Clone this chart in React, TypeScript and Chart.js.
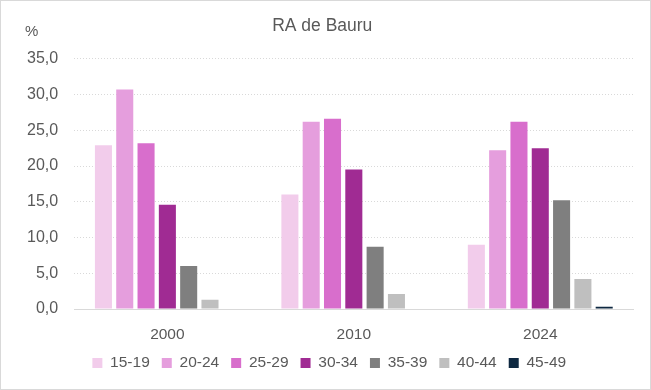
import React, { useEffect, useRef } from "react";
import { Chart, registerables } from "chart.js";

Chart.register(...registerables);

const years = ["2000", "2010", "2024"];
const ageGroups = ["15-19", "20-24", "25-29", "30-34", "35-39", "40-44", "45-49"];
const v1519 = [22.9, 16.0, 9.0];
const v2024 = [30.7, 26.2, 22.2];
const v2529 = [23.2, 26.6, 26.2];
const v3034 = [14.6, 19.5, 22.5];
const v3539 = [6.0, 8.7, 15.2];
const v4044 = [1.3, 2.1, 4.2];
const v4549 = [0.0, 0.0, 0.3];
const colors = ["#F2CCEB", "#E59EDD", "#D86ECC", "#A02B93", "#7F7F7F", "#BFBFBF", "#0E2841"];

const FONT = "'Liberation Sans', Arial, sans-serif";
const TXT = "#595959";

export default function App() {
  const ref = useRef<HTMLCanvasElement>(null);
  useEffect(() => {
    document.body.style.margin = "0";
    const series = [v1519, v2024, v2529, v3034, v3539, v4044, v4549];
    const pctPlugin = {
      id: "pctLabel",
      afterLayout(chart: any) {
        if (chart.legend) {
          chart.legend.left += 14;
        }
      },
      afterDraw(chart: any) {
        const ctx = chart.ctx;
        ctx.save();
        ctx.fillStyle = TXT;
        ctx.font = `15px ${FONT}`;
        ctx.textBaseline = "middle";
        ctx.fillText("%", 24, 31);
        ctx.restore();
      },
    };
    const chart = new Chart(ref.current!, {
      type: "bar",
      data: {
        labels: years,
        datasets: ageGroups.map((g, i) => ({
          label: g,
          data: series[i],
          backgroundColor: colors[i],
          borderWidth: 0,
          categoryPercentage: 0.8,
          barPercentage: 0.8,
        })),
      },
      options: {
        animation: false,
        responsive: false,
        layout: { padding: { left: 10, right: 16.5, top: 0, bottom: 8.25 } },
        plugins: {
          title: {
            display: true,
            text: "RA de Bauru",
            color: TXT,
            font: { family: FONT, size: 17.5, weight: "normal" },
            padding: { top: 14.5, bottom: 22.3 },
          },
          legend: {
            position: "bottom",
            labels: {
              color: TXT,
              font: { family: FONT, size: 15.5 },
              boxWidth: 10,
              boxHeight: 10,
              padding: 12,
            },
          },
          tooltip: { enabled: false },
        },
        scales: {
          x: {
            grid: { display: false, drawTicks: false },
            border: { color: "#D9D9D9", width: 1 },
            ticks: { color: TXT, font: { family: FONT, size: 15.5 }, padding: 16.7 },
            afterFit: (scale: any) => {
              scale.height = 34.25;
            },
          },
          y: {
            min: 0,
            max: 35,
            ticks: {
              stepSize: 5,
              color: TXT,
              font: { family: FONT, size: 16 },
              padding: 16,
              callback: (v: any) => Number(v).toFixed(1).replace(".", ","),
            },
            grid: { color: "#D9D9D9", drawTicks: false },
            border: { display: false, dash: [1, 2] },
          },
        },
      },
      plugins: [pctPlugin],
    });
    return () => chart.destroy();
  }, []);
  return (
    <div style={{ width: 651, height: 390, boxSizing: "border-box", border: "1px solid #D9D9D9", background: "#fff" }}>
      <canvas ref={ref} width={649} height={388} style={{ display: "block" }} />
    </div>
  );
}
